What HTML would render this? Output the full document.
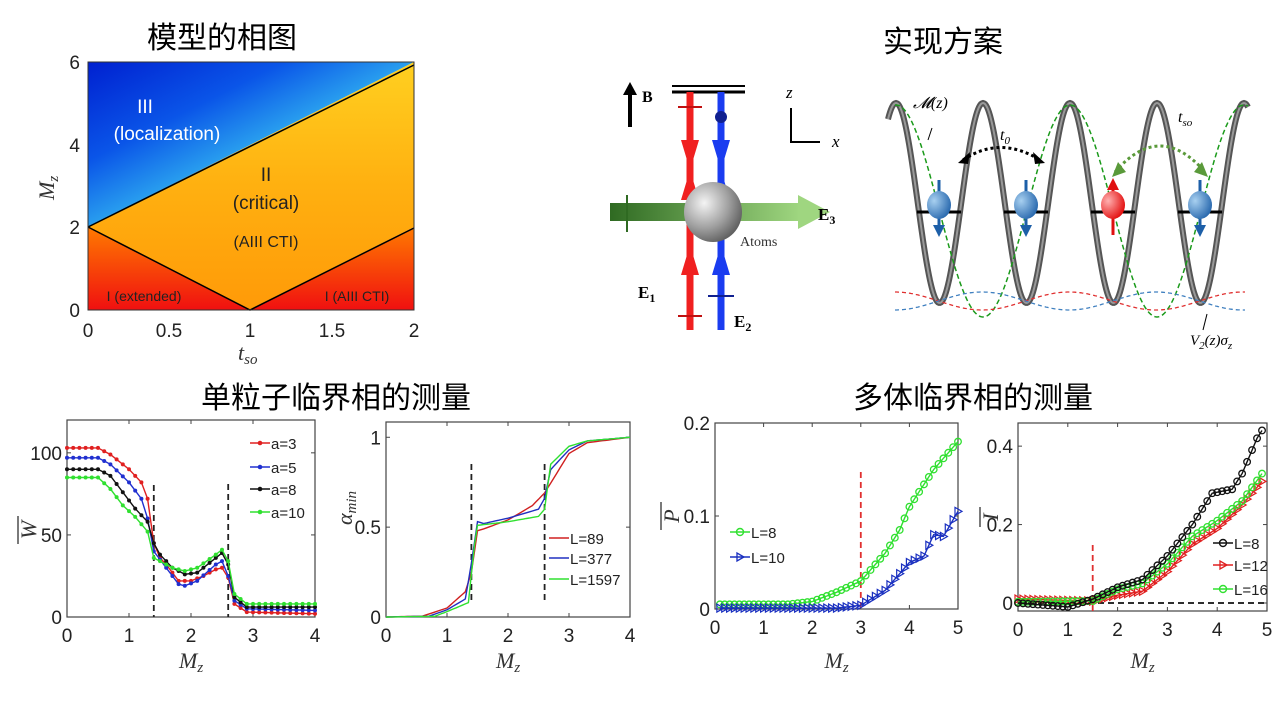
<!DOCTYPE html>
<html><head><meta charset="utf-8"><style>
body{margin:0;background:#fff;}
svg{display:block;font-family:"Liberation Sans","Noto Sans CJK SC",sans-serif;}
.t{font-size:30px;fill:#000;}
.tk{font-size:19px;fill:#222;}
.tk2{font-size:15px;fill:#222;}
.ml{font-family:"Liberation Serif",serif;font-style:italic;font-size:22px;fill:#333;}
</style></head><body>
<svg id="s" width="1280" height="720" viewBox="0 0 1280 720" xmlns="http://www.w3.org/2000/svg">
<defs>
<linearGradient id="gTop" x1="0" y1="0" x2="1" y2="1">
<stop offset="0" stop-color="#0020d0"/><stop offset="0.3" stop-color="#0a55e8"/><stop offset="0.55" stop-color="#30b0f0"/><stop offset="0.75" stop-color="#b0e8a0"/><stop offset="1" stop-color="#ffe030"/></linearGradient>
<linearGradient id="gMid" x1="0" y1="0" x2="0" y2="1">
<stop offset="0" stop-color="#ffd020"/><stop offset="0.5" stop-color="#ffb010"/><stop offset="1" stop-color="#ff9a08"/></linearGradient>
<linearGradient id="gBot" x1="0" y1="0" x2="0" y2="1">
<stop offset="0" stop-color="#ff7a00"/><stop offset="1" stop-color="#f01010"/></linearGradient>
<radialGradient id="sph" cx="0.35" cy="0.35" r="0.7"><stop offset="0" stop-color="#f4f4f4"/><stop offset="0.6" stop-color="#a0a0a0"/><stop offset="1" stop-color="#606060"/></radialGradient>
<linearGradient id="grn" x1="0" x2="1"><stop offset="0" stop-color="#2f6a22"/><stop offset="1" stop-color="#9fd680"/></linearGradient>
<radialGradient id="bs" cx="0.3" cy="0.35" r="0.8"><stop offset="0" stop-color="#a8d0f0"/><stop offset="1" stop-color="#1d5fa8"/></radialGradient>
<radialGradient id="rs" cx="0.3" cy="0.35" r="0.8"><stop offset="0" stop-color="#ffb0b0"/><stop offset="1" stop-color="#e00000"/></radialGradient>
</defs>

<text class="t" x="222" y="48" text-anchor="middle">模型的相图</text>
<text class="t" x="943" y="52" text-anchor="middle">实现方案</text>
<text class="t" x="336" y="408" text-anchor="middle">单粒子临界相的测量</text>
<text class="t" x="973" y="408" text-anchor="middle">多体临界相的测量</text>

<polygon points="88,62 414,62 88,227" fill="url(#gTop)"/>
<polygon points="414,62 414,227 250,310 88,227" fill="url(#gMid)"/>
<polygon points="88,227 250,310 88,310" fill="url(#gBot)"/>
<polygon points="250,310 414,227 414,310" fill="url(#gBot)"/>
<polyline points="88,227 414,65" stroke="#000" stroke-width="1.5" fill="none"/>
<polyline points="88,227 250,310 414,228" stroke="#000" stroke-width="1.5" fill="none"/>
<rect x="88" y="62" width="326" height="248" fill="none" stroke="#333" stroke-width="1"/>
<g font-size="19" fill="#fff" text-anchor="middle">
<text x="145" y="113">III</text><text x="167" y="140">(localization)</text>
<text x="266" y="181" fill="#222">II</text><text x="266" y="209" fill="#222">(critical)</text><text x="266" y="247" fill="#222" font-size="16">(AIII CTI)</text>
<text x="144" y="301" fill="#222" font-size="14">I (extended)</text><text x="357" y="301" fill="#222" font-size="14">I (AIII CTI)</text>
</g>
<g class="tk" text-anchor="middle" font-size="20"><text x="88" y="337">0</text><text x="169" y="337">0.5</text><text x="250" y="337">1</text><text x="332" y="337">1.5</text><text x="414" y="337">2</text></g>
<g class="tk" text-anchor="end" font-size="20"><text x="80" y="317">0</text><text x="80" y="234">2</text><text x="80" y="152">4</text><text x="80" y="69">6</text></g>
<text class="ml" x="238" y="360">t<tspan font-size="15" dy="4">so</tspan></text>
<text class="ml" transform="translate(54,200) rotate(-90)">M<tspan font-size="15" dy="4">z</tspan></text>

<line x1="672" y1="86" x2="745" y2="86" stroke="#000" stroke-width="2"/>
<line x1="672" y1="92" x2="745" y2="92" stroke="#000" stroke-width="3"/>
<line x1="630" y1="127" x2="630" y2="92" stroke="#000" stroke-width="4"/><polygon points="623,95 637,95 630,82" fill="#000"/>
<text x="642" y="102" font-family="Liberation Serif" font-weight="bold" font-size="16">B</text>
<rect x="610" y="203" width="190" height="18" fill="url(#grn)"/><polygon points="798,195 798,229 830,212" fill="#9fd680"/>
<line x1="627" y1="195" x2="627" y2="232" stroke="#2f6a22" stroke-width="2"/>
<line x1="690" y1="92" x2="690" y2="330" stroke="#f02020" stroke-width="7"/>
<line x1="721" y1="92" x2="721" y2="330" stroke="#1a3cf0" stroke-width="7"/>
<polygon points="681,140 699,140 690,170" fill="#f02020"/><polygon points="681,200 699,200 690,170" fill="#f02020"/>
<polygon points="712,140 730,140 721,170" fill="#1a3cf0"/><polygon points="712,200 730,200 721,170" fill="#1a3cf0"/>
<polygon points="681,275 699,275 690,245" fill="#f02020"/><polygon points="712,275 730,275 721,245" fill="#1a3cf0"/>
<circle cx="721" cy="117" r="6" fill="#102090"/>
<line x1="678" y1="107" x2="702" y2="107" stroke="#c01010" stroke-width="2"/>
<line x1="678" y1="316" x2="702" y2="316" stroke="#c01010" stroke-width="2"/>
<line x1="708" y1="296" x2="734" y2="296" stroke="#102090" stroke-width="2"/>
<ellipse cx="713" cy="212" rx="29" ry="30" fill="url(#sph)"/>
<text x="740" y="246" font-family="Liberation Serif" font-size="14" fill="#333">Atoms</text>
<text x="638" y="298" font-family="Liberation Serif" font-weight="bold" font-size="17">E<tspan font-size="12" dy="4">1</tspan></text>
<text x="734" y="327" font-family="Liberation Serif" font-weight="bold" font-size="17">E<tspan font-size="12" dy="4">2</tspan></text>
<text x="818" y="220" font-family="Liberation Serif" font-weight="bold" font-size="17">E<tspan font-size="12" dy="4">3</tspan></text>
<polyline points="791,108 791,142 820,142" fill="none" stroke="#000" stroke-width="2"/>
<text x="786" y="98" font-family="Liberation Serif" font-style="italic" font-size="17">z</text>
<text x="832" y="147" font-family="Liberation Serif" font-style="italic" font-size="17">x</text>

<g id="schem"></g>
<text x="913" y="108" font-family="Liberation Serif" font-style="italic" font-size="16">𝓜(z)</text>
<text x="1000" y="140" font-family="Liberation Serif" font-style="italic" font-size="16">t<tspan font-size="11" dy="4">0</tspan></text>
<text x="1178" y="122" font-family="Liberation Serif" font-style="italic" font-size="16">t<tspan font-size="11" dy="4">so</tspan></text>
<text x="1190" y="345" font-family="Liberation Serif" font-style="italic" font-size="15">V<tspan font-size="11" dy="4">2</tspan><tspan dy="-4">(z)σ</tspan><tspan font-size="11" dy="4">z</tspan></text>

<g id="plots"></g>
</svg>
<script>
var NS="http://www.w3.org/2000/svg";
function el(p,t,a,txt){var e=document.createElementNS(NS,t);for(var k in a)e.setAttribute(k,a[k]);if(txt!==undefined)e.textContent=txt;p.appendChild(e);return e;}
var S=document.getElementById('schem');
function wave(f,x0,x1){var s="";for(var x=x0;x<=x1;x+=1){s+=x+","+f(x).toFixed(1)+" ";}return s;}
var gray=function(x){return 203-100*Math.cos(2*Math.PI*(x-983)/87);};
el(S,'polyline',{points:wave(gray,888,1248),fill:'none',stroke:'#555',"stroke-width":6});
el(S,'polyline',{points:wave(gray,888,1248),fill:'none',stroke:'#999',"stroke-width":2});
var gr=function(x){return 211-106*Math.cos(2*Math.PI*(x-1070)/174);};
el(S,'polyline',{points:wave(gr,895,1248),fill:'none',stroke:'#1a9a1a',"stroke-width":1.5,"stroke-dasharray":"5,3"});
el(S,'polyline',{points:wave(function(x){return 301-9*Math.cos(2*Math.PI*(x-895)/174);},895,1245),fill:'none',stroke:'#e03030',"stroke-width":1.3,"stroke-dasharray":"4,3"});
el(S,'polyline',{points:wave(function(x){return 301+9*Math.cos(2*Math.PI*(x-895)/174);},895,1245),fill:'none',stroke:'#4080c0',"stroke-width":1.3,"stroke-dasharray":"4,3"});
[[939,0],[1026,0],[1113,1],[1200,0]].forEach(function(p){var x=p[0];
el(S,'line',{x1:x-22,y1:212,x2:x+22,y2:212,stroke:'#000',"stroke-width":3});
var c=p[1]?'#e01010':'#1d5fa8';
el(S,'line',{x1:x,y1:p[1]?190:180,x2:x,y2:p[1]?235:225,stroke:c,"stroke-width":3});
if(p[1])el(S,'polygon',{points:(x-6)+",190 "+(x+6)+",190 "+x+",178",fill:c});else el(S,'polygon',{points:(x-6)+",225 "+(x+6)+",225 "+x+",237",fill:c});
el(S,'ellipse',{cx:x,cy:205,rx:12,ry:14,fill:p[1]?'url(#rs)':'url(#bs)'});});
el(S,'path',{d:"M963,160 Q1000,135 1040,160",fill:'none',stroke:'#000',"stroke-width":3,"stroke-dasharray":"3,3"});
el(S,'polygon',{points:"958,163 970,152 968,164",fill:'#000'});el(S,'polygon',{points:"1045,163 1033,152 1035,164",fill:'#000'});
el(S,'path',{d:"M1115,172 Q1160,120 1205,172",fill:'none',stroke:'#5a9a3a',"stroke-width":3,"stroke-dasharray":"3,3"});
el(S,'polygon',{points:"1112,177 1118,162 1126,172",fill:'#5a9a3a'});el(S,'polygon',{points:"1208,177 1202,162 1194,172",fill:'#5a9a3a'});
el(S,'line',{x1:932,y1:128,x2:928,y2:140,stroke:'#000'});
el(S,'line',{x1:1203,y1:330,x2:1207,y2:314,stroke:'#000'});

var P=document.getElementById('plots');
function interp(k,x){for(var i=0;i<k.length-1;i++){if(x<=k[i+1][0]){var t=(x-k[i][0])/(k[i+1][0]-k[i][0]);return k[i][1]+t*(k[i+1][1]-k[i][1]);}}return k[k.length-1][1];}
function axes(b,xt,yt){
el(P,'rect',{x:b.l,y:b.t,width:b.r-b.l,height:b.b-b.t,fill:'none',stroke:'#444',"stroke-width":1.2});
xt.forEach(function(v){var x=b.X(v);el(P,'line',{x1:x,y1:b.b,x2:x,y2:b.b-4,stroke:'#444'});el(P,'line',{x1:x,y1:b.t,x2:x,y2:b.t+4,stroke:'#444'});el(P,'text',{x:x,y:b.b+25,"text-anchor":"middle","class":"tk"},String(v));});
yt.forEach(function(v){var y=b.Y(v[0]);el(P,'line',{x1:b.l,y1:y,x2:b.l+4,y2:y,stroke:'#444'});el(P,'line',{x1:b.r,y1:y,x2:b.r-4,y2:y,stroke:'#444'});el(P,'text',{x:b.l-5,y:y+7,"text-anchor":"end","class":"tk"},v[1]);});
var mz=el(P,'text',{x:(b.l+b.r)/2-12,y:668,"class":"ml"},'M');el(mz,'tspan',{"font-size":15,dy:4},'z');
}
function box(l,r,t,bb,x0,x1,y0,y1){return {l:l,r:r,t:t,b:bb,X:function(v){return l+(v-x0)/(x1-x0)*(r-l);},Y:function(v){return bb-(v-y0)/(y1-y0)*(bb-t);}};}
function series(b,k,c,x0,x1,st,mk){var pts=[];for(var x=x0;x<=x1+1e-9;x+=st){pts.push([b.X(x),b.Y(interp(k,x))]);}
el(P,'polyline',{points:pts.map(function(p){return p[0].toFixed(1)+","+p[1].toFixed(1)}).join(" "),fill:'none',stroke:c,"stroke-width":1.4});
pts.forEach(function(p){if(mk=='d')el(P,'circle',{cx:p[0],cy:p[1],r:2,fill:c});else if(mk=='o')el(P,'circle',{cx:p[0],cy:p[1],r:3.3,fill:'none',stroke:c,"stroke-width":1.3});else if(mk=='tri')el(P,'polygon',{points:(p[0]-3)+","+(p[1]-4)+" "+(p[0]-3)+","+(p[1]+4)+" "+(p[0]+4)+","+p[1],fill:'none',stroke:c,"stroke-width":1.2});});}
function leg(x,y,c,t,mk){el(P,'line',{x1:x,y1:y,x2:x+20,y2:y,stroke:c,"stroke-width":1.5});
if(mk=='d')el(P,'circle',{cx:x+10,cy:y,r:2.3,fill:c});else if(mk=='o')el(P,'circle',{cx:x+10,cy:y,r:3.5,fill:'none',stroke:c,"stroke-width":1.4});else if(mk=='tri')el(P,'polygon',{points:(x+7)+","+(y-4)+" "+(x+7)+","+(y+4)+" "+(x+14)+","+y,fill:'none',stroke:c,"stroke-width":1.3});
el(P,'text',{x:x+21,y:y+6,"class":"tk2","font-size":17},t);}
function dash(x1,y1,x2,y2,c){el(P,'line',{x1:x1,y1:y1,x2:x2,y2:y2,stroke:c,"stroke-width":1.8,"stroke-dasharray":"6,4"});}
function vlab(x,y,t,len){el(P,'text',{transform:"translate("+x+","+y+") rotate(-90)","class":"ml","text-anchor":"middle"},t);el(P,'line',{x1:x-18,y1:y-len,x2:x-18,y2:y+len,stroke:'#333',"stroke-width":1.3});}

var b1=box(67,315,420,617,0,4,0,120);
axes(b1,[0,1,2,3,4],[[0,'0'],[50,'50'],[100,'100']]);
dash(b1.X(1.4),485,b1.X(1.4),617,'#222');dash(b1.X(2.6),484,b1.X(2.6),617,'#222');
series(b1,[[0,103],[0.5,103],[0.7,99],[1.0,90],[1.2,82],[1.3,72],[1.4,45],[1.5,36],[1.6,32],[1.8,22],[2.0,22],[2.2,25],[2.4,29],[2.5,30],[2.6,24],[2.7,8],[2.9,3],[4,2]],'#e02020',0,4,0.1,'d');
series(b1,[[0,97],[0.5,97],[0.7,93],[1.0,82],[1.2,72],[1.3,60],[1.4,40],[1.5,35],[1.6,30],[1.8,20],[1.9,19],[2.1,22],[2.4,32],[2.5,34],[2.6,25],[2.7,10],[2.9,5],[4,4]],'#2030d0',0,4,0.1,'d');
series(b1,[[0,90],[0.5,90],[0.7,86],[0.9,76],[1.1,66],[1.3,58],[1.4,45],[1.5,38],[1.7,30],[1.9,26],[2.1,27],[2.4,36],[2.5,39],[2.6,32],[2.7,12],[2.9,6],[4,6]],'#111',0,4,0.1,'d');
series(b1,[[0,85],[0.5,85],[0.7,78],[0.9,68],[1.1,61],[1.3,52],[1.4,36],[1.5,34],[1.7,30],[1.9,28],[2.1,30],[2.4,38],[2.5,41],[2.6,34],[2.7,14],[2.9,8],[4,8]],'#30e030',0,4,0.1,'d');
leg(250,443,'#e02020','a=3','d');leg(250,467,'#2030d0','a=5','d');leg(250,489,'#111','a=8','d');leg(250,512,'#30e030','a=10','d');
vlab(36,530,'W',14);

var b2=box(386,630,422,617,0,4,0,1.085);
axes(b2,[0,1,2,3,4],[[0,'0'],[0.5,'0.5'],[1,'1']]);
dash(b2.X(1.4),464,b2.X(1.4),600,'#222');dash(b2.X(2.6),464,b2.X(2.6),600,'#222');
series(b2,[[0,0],[0.6,0.005],[1.0,0.05],[1.3,0.14],[1.4,0.25],[1.5,0.48],[1.6,0.49],[2.0,0.54],[2.4,0.62],[2.6,0.69],[2.8,0.8],[3.0,0.91],[3.3,0.97],[4,1]],'#d02020',0,4,0.05);
series(b2,[[0,0],[0.7,0.004],[1.0,0.04],[1.3,0.1],[1.4,0.3],[1.5,0.53],[1.6,0.52],[2.0,0.55],[2.5,0.6],[2.6,0.66],[2.7,0.82],[3.0,0.93],[3.3,0.98],[4,1]],'#2030c0',0,4,0.05);
series(b2,[[0,0],[0.8,0.004],[1.0,0.03],[1.35,0.08],[1.45,0.4],[1.5,0.51],[2.0,0.53],[2.5,0.56],[2.6,0.6],[2.7,0.85],[3.0,0.95],[3.3,0.98],[4,1]],'#30e030',0,4,0.05);
leg(549,538,'#d02020','L=89');leg(549,558,'#2030c0','L=377');leg(549,579,'#30e030','L=1597');
var a=el(P,'text',{transform:"translate(352,525) rotate(-90)","class":"ml","font-size":22},'α');el(a,'tspan',{"font-size":15,dy:4},'min');

var b3=box(715,958,423,609,0,5,0,0.2);
axes(b3,[0,1,2,3,4,5],[[0,'0'],[0.1,'0.1'],[0.2,'0.2']]);
dash(b3.X(3),472,b3.X(3),609,'#e03030');
series(b3,[[0,0.005],[1.5,0.005],[2,0.008],[2.5,0.018],[3,0.03],[3.5,0.06],[3.8,0.085],[4,0.11],[4.5,0.15],[5,0.18]],'#30e030',0.1,5,0.1,'o');
series(b3,[[0,0.001],[2.5,0.001],[3,0.004],[3.5,0.02],[3.7,0.032],[4,0.05],[4.3,0.057],[4.5,0.08],[4.7,0.078],[5,0.105]],'#1a30c0',0.1,5,0.1,'tri');
leg(730,532,'#30e030','L=8','o');leg(730,557,'#1a30c0','L=10','tri');
vlab(679,516,'P',14);

var b4=box(1018,1267,423,611,0,5,-0.0204,0.459);
axes(b4,[0,1,2,3,4,5],[[0,'0'],[0.2,'0.2'],[0.4,'0.4']]);
dash(1018,603,1267,603,'#111');dash(b4.X(1.5),545,b4.X(1.5),611,'#e03030');
series(b4,[[0,0.01],[1.5,0.005],[2,0.02],[2.5,0.03],[3,0.08],[3.5,0.15],[4,0.19],[4.5,0.25],[4.9,0.31]],'#e02020',0,4.9,0.1,'tri');
series(b4,[[0,0.003],[1.5,0.005],[2,0.035],[2.5,0.05],[3,0.1],[3.5,0.17],[4,0.21],[4.5,0.26],[4.9,0.33]],'#30e030',0,4.9,0.1,'o');
series(b4,[[0,0],[1,-0.01],[1.5,0.01],[2,0.04],[2.5,0.06],[3,0.12],[3.5,0.2],[3.9,0.28],[4.3,0.29],[4.5,0.33],[4.8,0.42],[4.9,0.44]],'#111',0,4.9,0.1,'o');
leg(1213,543,'#111','L=8','o');leg(1213,565,'#e02020','L=12','tri');leg(1213,589,'#30e030','L=16','o');
vlab(998,347+170,'I',10);
</script>
</body></html>
